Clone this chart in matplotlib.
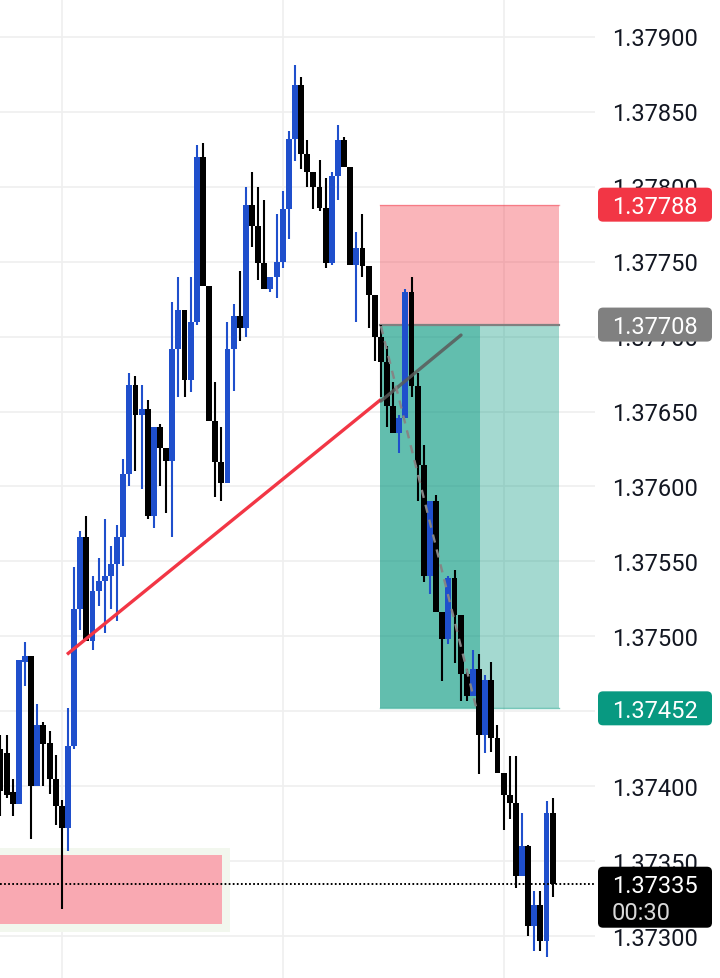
import matplotlib
matplotlib.use("Agg")
import matplotlib.pyplot as plt
from matplotlib.patches import Rectangle, FancyBboxPatch
from matplotlib.transforms import blended_transform_factory, IdentityTransform, offset_copy
import numpy as np

# ---------------- data ----------------
opens = [1.37425, 1.37422, 1.37396, 1.37388, 1.37483, 1.37487, 1.37400, 1.37441, 1.37429, 1.37405,
         1.37387, 1.37372, 1.37427, 1.37518, 1.37566, 1.37497, 1.37530, 1.37537, 1.37540, 1.37548,
         1.37566, 1.37608, 1.37668, 1.37648, 1.37652, 1.37580, 1.37640, 1.37626, 1.37617, 1.37692,
         1.37718, 1.37671, 1.37710, 1.37820, 1.37734, 1.37644, 1.37616, 1.37602, 1.37692, 1.37714,
         1.37706, 1.37788, 1.37774, 1.37749, 1.37732, 1.37740, 1.37750, 1.37785, 1.37832, 1.37868,
         1.37822, 1.37810, 1.37800, 1.37786, 1.37749, 1.37807, 1.37831, 1.37813, 1.37748, 1.37759,
         1.37747, 1.37728, 1.37700, 1.37683, 1.37654, 1.37636, 1.37646, 1.37730, 1.37667, 1.37614,
         1.37540, 1.37590, 1.37516, 1.37498, 1.37539, 1.37514, 1.37475, 1.37460, 1.37478, 1.37434,
         1.37471, 1.37432, 1.37409, 1.37394, 1.37389, 1.37340, 1.37360, 1.37307, 1.37321, 1.37297,
         1.37382]
highs = [1.37434, 1.37434, 1.37405, 1.37484, 1.37496, 1.37487, 1.37455, 1.37443, 1.37437, 1.37421,
         1.37391, 1.37452, 1.37546, 1.37570, 1.37580, 1.37540, 1.37552, 1.37578, 1.37560, 1.37574,
         1.37618, 1.37676, 1.37674, 1.37668, 1.37658, 1.37640, 1.37642, 1.37626, 1.37723, 1.37740,
         1.37718, 1.37740, 1.37828, 1.37829, 1.37734, 1.37670, 1.37640, 1.37710, 1.37722, 1.37744,
         1.37800, 1.37810, 1.37800, 1.37791, 1.37740, 1.37782, 1.37797, 1.37837, 1.37881, 1.37873,
         1.37831, 1.37810, 1.37818, 1.37806, 1.37810, 1.37841, 1.37833, 1.37813, 1.37770, 1.37782,
         1.37747, 1.37728, 1.37708, 1.37694, 1.37670, 1.37648, 1.37732, 1.37740, 1.37676, 1.37628,
         1.37590, 1.37594, 1.37516, 1.37540, 1.37544, 1.37514, 1.37478, 1.37491, 1.37488, 1.37474,
         1.37483, 1.37441, 1.37409, 1.37420, 1.37420, 1.37382, 1.37361, 1.37330, 1.37330, 1.37390,
         1.37392]
lows = [1.37380, 1.37392, 1.37380, 1.37388, 1.37467, 1.37365, 1.37400, 1.37400, 1.37395, 1.37374,
        1.37318, 1.37357, 1.37425, 1.37504, 1.37497, 1.37491, 1.37520, 1.37502, 1.37518, 1.37510,
        1.37547, 1.37600, 1.37610, 1.37598, 1.37578, 1.37572, 1.37600, 1.37582, 1.37566, 1.37660,
        1.37660, 1.37663, 1.37708, 1.37734, 1.37644, 1.37593, 1.37590, 1.37602, 1.37664, 1.37697,
        1.37700, 1.37760, 1.37738, 1.37732, 1.37730, 1.37726, 1.37746, 1.37765, 1.37817, 1.37812,
        1.37800, 1.37785, 1.37784, 1.37746, 1.37748, 1.37791, 1.37813, 1.37748, 1.37710, 1.37740,
        1.37706, 1.37684, 1.37660, 1.37640, 1.37636, 1.37622, 1.37646, 1.37660, 1.37590, 1.37536,
        1.37528, 1.37516, 1.37470, 1.37495, 1.37482, 1.37457, 1.37457, 1.37460, 1.37408, 1.37422,
        1.37423, 1.37409, 1.37371, 1.37378, 1.37332, 1.37340, 1.37300, 1.37290, 1.37290, 1.37286,
        1.37326]
closes = [1.37397, 1.37394, 1.37388, 1.37484, 1.37487, 1.37400, 1.37441, 1.37428, 1.37405, 1.37387,
          1.37372, 1.37427, 1.37518, 1.37566, 1.37497, 1.37530, 1.37537, 1.37540, 1.37548, 1.37566,
          1.37608, 1.37668, 1.37648, 1.37652, 1.37580, 1.37640, 1.37626, 1.37617, 1.37692, 1.37718,
          1.37671, 1.37710, 1.37820, 1.37734, 1.37644, 1.37616, 1.37602, 1.37692, 1.37714, 1.37706,
          1.37788, 1.37774, 1.37749, 1.37732, 1.37740, 1.37750, 1.37785, 1.37832, 1.37868, 1.37822,
          1.37810, 1.37800, 1.37786, 1.37749, 1.37807, 1.37831, 1.37813, 1.37748, 1.37759, 1.37747,
          1.37728, 1.37700, 1.37683, 1.37654, 1.37636, 1.37646, 1.37730, 1.37667, 1.37614, 1.37540,
          1.37590, 1.37516, 1.37498, 1.37539, 1.37514, 1.37475, 1.37460, 1.37478, 1.37434, 1.37471,
          1.37432, 1.37409, 1.37394, 1.37389, 1.37340, 1.37360, 1.37307, 1.37321, 1.37297, 1.37382,
          1.37335]

grid_prices = [1.37300, 1.37350, 1.37400, 1.37450, 1.37500, 1.37550, 1.37600,
               1.37650, 1.37700, 1.37750, 1.37800, 1.37850, 1.37900]
# labels visible on the price scale (1.37450 is fully hidden behind the target badge)
label_prices = [1.37300, 1.37350, 1.37400, 1.37500, 1.37550, 1.37600,
                1.37650, 1.37700, 1.37750, 1.37800, 1.37850, 1.37900]
vgrid_bars = [10, 46, 82]

# position tool (bars / prices)
stop_price = 1.37788
entry_price = 1.37708
target_price = 1.37452
box_bars = [61.86, 78.16, 91.03]          # start, inner split, end

# demand zone bottom-left
zone_bars = [-1.0, 36.1]
zone_prices = [1.37308, 1.37354]

# drawn lines
trend_x, trend_y = [10.84, 62.0], [1.37488, 1.37658]
gray_x, gray_y = [62.0, 75.06], [1.37657, 1.37701]
dash_x, dash_y = [62.0, 77.5], [1.37707, 1.37453]

last_price = 1.37335
countdown = "00:30"

# ---------------- figure ----------------
plt.rcParams['font.family'] = ['Roboto', 'DejaVu Sans']
W, H = 720, 979
fig = plt.figure(figsize=(W / 100, H / 100), dpi=100)
fig.patch.set_facecolor('white')
ax = fig.add_axes([0, 0, 595 / W, 1])
ax.set_xlim(-0.08, 96.9)
ax.set_ylim(1.372721, 1.379252)
for s in ax.spines.values():
    s.set_visible(False)
ax.set_xticks([])
ax.set_yticks([])

# grid
for p in grid_prices:
    ax.axhline(p, color='#efefef', lw=1.2, zorder=0)
for b in vgrid_bars:
    ax.axvline(b, color='#efefef', lw=1.2, zorder=0)

# demand zone
ax.add_patch(Rectangle((zone_bars[0], zone_prices[0] - 0.00005), zone_bars[1] - zone_bars[0] + 1.3,
                       zone_prices[1] - zone_prices[0] + 0.0001, facecolor='#f2f7ee',
                       edgecolor='none', zorder=0.5))
ax.add_patch(Rectangle((zone_bars[0], zone_prices[0]), zone_bars[1] - zone_bars[0],
                       zone_prices[1] - zone_prices[0], facecolor='#f9a9b2',
                       edgecolor='none', zorder=0.6))

# position tool
x0, xm, x1 = box_bars
ax.add_patch(Rectangle((x0, entry_price), x1 - x0, stop_price - entry_price,
                       facecolor='#f23645', alpha=0.37, edgecolor='none', zorder=1))
ax.add_patch(Rectangle((x0, target_price), x1 - x0, entry_price - target_price,
                       facecolor='#089981', alpha=0.37, edgecolor='none', zorder=1))
ax.add_patch(Rectangle((x0, target_price), xm - x0, entry_price - target_price,
                       facecolor='#089981', alpha=0.42, edgecolor='none', zorder=1.1))
ax.plot([x0, x1], [stop_price, stop_price], color='#f23645', alpha=0.45, lw=1, zorder=1.2)
ax.plot([x0, x1], [target_price, target_price], color='#089981', alpha=0.55, lw=1, zorder=1.2)
ax.plot([x0, x1], [entry_price, entry_price], color='#808080', lw=1.6, zorder=1.2)

# candles
o = np.array(opens); h = np.array(highs); l = np.array(lows); c = np.array(closes)
idx = np.arange(len(o))
up = c >= o
colors = np.where(up, '#1f4fcc', '#000000')
ax.vlines(idx, l, h, colors=colors, lw=1.5, zorder=3)
bottoms = np.minimum(o, c)
heights = np.maximum(np.abs(c - o), 0.000012)
ax.bar(idx, heights, bottom=bottoms, width=0.96, color=colors, edgecolor='none', zorder=4)

# drawn lines
ax.plot(trend_x, trend_y, color='#f23645', lw=2.4, solid_capstyle='butt', zorder=5)
ax.plot(gray_x, gray_y, color='#5a5a5a', lw=2.4, alpha=0.85, solid_capstyle='round', zorder=5)
ax.plot(dash_x, dash_y, color='#858585', lw=1.7, dashes=(3.5, 3), zorder=5)

# last price dotted line
ax.axhline(last_price, color='#000000', lw=1.4, dashes=(0.9, 1.2), zorder=6)

# right price scale labels (nudged 2 px down so digits sit centred on the grid)
tr = offset_copy(blended_transform_factory(ax.transAxes, ax.transData), fig=fig, y=-2, units='dots')
lx = 612 / 595
for p in label_prices:
    ax.text(lx, p, f"{p:.5f}", transform=tr, ha='left', va='center', fontsize=17,
            color='#131722', clip_on=False, zorder=3)

# badges (display pixel coords)
fig.canvas.draw()
ident = IdentityTransform()


def ypix(price):
    return ax.transData.transform((0, price))[1]


def badge(price, label, face, h=34, tcolor='white'):
    yc = ypix(price)
    fig.add_artist(FancyBboxPatch((598, yc - h / 2), 114, h,
                                  boxstyle='round,pad=0,rounding_size=5',
                                  facecolor=face, edgecolor='none', transform=ident, zorder=5))
    fig.text(612, yc - 2, label, transform=ident, ha='left', va='center', fontsize=17,
             color=tcolor, zorder=6)


badge(stop_price, f"{stop_price:.5f}", '#f23645')
badge(entry_price, f"{entry_price:.5f}", '#808080')
badge(target_price, f"{target_price:.5f}", '#089981')

yc = ypix(last_price)
fig.add_artist(FancyBboxPatch((598, yc - 44), 114, 61,
                              boxstyle='round,pad=0,rounding_size=5',
                              facecolor='#000000', edgecolor='none', transform=ident, zorder=5))
fig.text(612, yc - 2, f"{last_price:.5f}", transform=ident, ha='left', va='center',
         fontsize=17, color='white', zorder=6)
fig.text(612, yc - 29, countdown, transform=ident, ha='left', va='center',
         fontsize=17, color='#d9d9d9', zorder=6)

fig.savefig('out.png', dpi=100)
